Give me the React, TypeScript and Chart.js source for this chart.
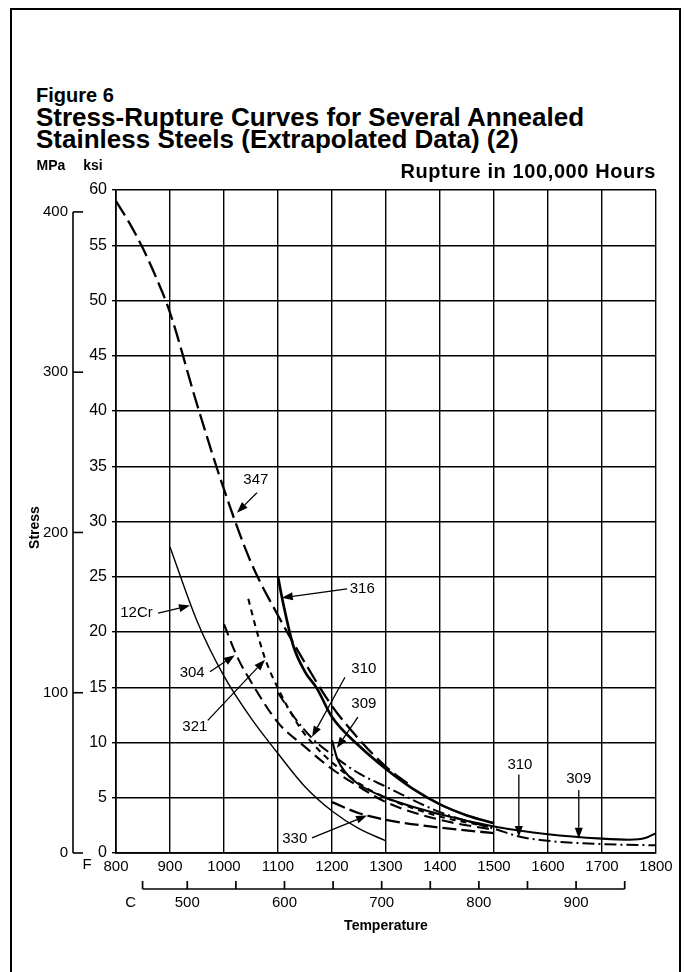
import React, { useEffect, useRef } from "react";
import { Chart, registerables } from "chart.js";

Chart.register(...registerables);

// ---------- data (temperature °F, stress ksi) ----------
const F_347 = [800, 825, 850, 875, 900, 950, 1000, 1050, 1100, 1150, 1200, 1250, 1300, 1340];
const KSI_347 = [59, 57.0, 54.7, 52.0, 48.9, 40.6, 32.9, 26.3, 21.5, 17.2, 13.3, 10.3, 7.8, 6.3];

const F_316 = [1100, 1110, 1128, 1150, 1172, 1200, 1250, 1300, 1350, 1400, 1450, 1500];
const KSI_316 = [25, 22.5, 18.8, 16.4, 14.9, 12.3, 9.7, 7.6, 5.8, 4.4, 3.4, 2.7];

const F_12CR = [900, 950, 1000, 1050, 1100, 1150, 1200, 1250, 1300];
const KSI_12CR = [27.7, 21.0, 16.0, 12.2, 9.0, 6.0, 3.8, 2.2, 1.1];

const F_304 = [1000, 1025, 1050, 1100, 1150, 1200, 1250, 1300, 1400, 1500];
const KSI_304 = [20.7, 17.7, 15.5, 11.8, 9.6, 7.6, 6.0, 4.6, 3.0, 2.1];

const F_321 = [1045, 1060, 1076, 1100, 1140, 1170, 1200, 1250, 1300, 1400, 1500];
const KSI_321 = [23.0, 20.2, 17.6, 14.9, 11.4, 9.6, 8.2, 6.3, 5.0, 3.3, 2.3];

const F_310 = [1100, 1130, 1163, 1200, 1250, 1300, 1400, 1500, 1550, 1600, 1700, 1800];
const KSI_310 = [14.5, 12.3, 10.4, 8.9, 7.2, 6.0, 3.7, 2.2, 1.45, 1.1, 0.8, 0.7];

const F_309 = [1200, 1210, 1225, 1250, 1300, 1400, 1500, 1600, 1700, 1750, 1780, 1800];
const KSI_309 = [10.2, 8.5, 7.3, 6.2, 5.0, 3.5, 2.4, 1.7, 1.3, 1.2, 1.35, 1.8];

const F_330 = [1200, 1250, 1300, 1400, 1500];
const KSI_330 = [4.6, 3.6, 3.0, 2.3, 1.8];

// axes
const F_MIN = 800;
const F_MAX = 1800;
const F_STEP = 100;
const KSI_MIN = 0;
const KSI_MAX = 60;
const KSI_STEP = 5;
const MPA_TICKS = [0, 100, 200, 300, 400];
const MPA_PER_KSI = 6.894757;
const C_TICKS = [500, 550, 600, 650, 700, 750, 800, 850, 900, 950];
const C_LABELS = [500, 600, 700, 800, 900];
const C_START = 454;

// curve labels: text position, arrow tail, arrow head (°F, ksi)
const LABELS = [
  { text: "347", tx: 1059, ty: 33.8, ax: 1061, ay: 32.6, hx: 1024, hy: 30.8 },
  { text: "316", tx: 1256, ty: 23.9, ax: 1228, ay: 23.9, hx: 1107, hy: 23.1 },
  { text: "12Cr", tx: 838, ty: 21.7, ax: 878, ay: 21.7, hx: 937, hy: 22.4 },
  { text: "304", tx: 941, ty: 16.3, ax: 974, ay: 16.4, hx: 1020, hy: 17.9 },
  { text: "321", tx: 946, ty: 11.4, ax: 970, ay: 12.0, hx: 1076, hy: 17.5 },
  { text: "310", tx: 1259, ty: 16.7, ax: 1224, ay: 15.9, hx: 1163, hy: 10.5 },
  { text: "309", tx: 1259, ty: 13.5, ax: 1248, ay: 12.3, hx: 1209, hy: 9.5 },
  { text: "330", tx: 1131, ty: 1.3, ax: 1163, ay: 1.36, hx: 1265, hy: 3.4 },
  { text: "310", tx: 1548, ty: 8.0, ax: 1546, ay: 7.1, hx: 1546, hy: 1.45 },
  { text: "309", tx: 1657, ty: 6.7, ax: 1657, ay: 5.7, hx: 1657, hy: 1.3 },
];

const FONT = "'Liberation Sans', Arial, Helvetica, sans-serif";

function pts(xs: number[], ys: number[]) {
  return xs.map((x, i) => ({ x, y: ys[i] }));
}

function ds(label: string, xs: number[], ys: number[], width: number, dash: number[]) {
  return {
    label,
    data: pts(xs, ys),
    borderColor: "#000",
    backgroundColor: "#000",
    borderWidth: width,
    borderDash: dash,
    pointRadius: 0,
    cubicInterpolationMode: "monotone" as const,
    fill: false,
  };
}

const overlay = {
  id: "overlay",
  afterDraw(chart: any) {
    const { ctx, chartArea, scales } = chart;
    const x = scales.x;
    const y = scales.y;
    ctx.save();
    ctx.fillStyle = "#000";
    ctx.strokeStyle = "#000";
    ctx.lineCap = "butt";

    // MPa axis
    const axX = chartArea.left - 43;
    const yTop = y.getPixelForValue(MPA_TICKS[MPA_TICKS.length - 1] / MPA_PER_KSI);
    const yBot = y.getPixelForValue(0);
    ctx.lineWidth = 1.6;
    ctx.beginPath();
    ctx.moveTo(axX, yTop);
    ctx.lineTo(axX, yBot);
    ctx.stroke();
    ctx.font = `15px ${FONT}`;
    ctx.textAlign = "right";
    ctx.textBaseline = "middle";
    MPA_TICKS.forEach((m) => {
      const py = y.getPixelForValue(m / MPA_PER_KSI);
      ctx.beginPath();
      ctx.moveTo(axX, py);
      ctx.lineTo(axX + 10, py);
      ctx.stroke();
      ctx.fillText(String(m), axX - 5, py);
    });

    // unit labels
    ctx.font = `bold 14px ${FONT}`;
    ctx.textAlign = "center";
    ctx.fillText("MPa", chartArea.left - 65, chartArea.top - 24);
    ctx.fillText("ksi", chartArea.left - 23, chartArea.top - 24);

    // Rupture header
    ctx.font = `bold 20px ${FONT}`;
    ctx.textAlign = "right";
    try {
      (ctx as any).letterSpacing = "0.6px";
    } catch (e) {}
    ctx.fillText("Rupture in 100,000 Hours", chartArea.right, chartArea.top - 18);
    try {
      (ctx as any).letterSpacing = "0px";
    } catch (e) {}

    // F label
    ctx.font = `15px ${FONT}`;
    ctx.textAlign = "center";
    ctx.fillText("F", chartArea.left - 29, chartArea.bottom + 12);

    // Celsius axis
    const yC = chartArea.bottom + 36;
    const toF = (c: number) => c * 1.8 + 32;
    const cx0 = x.getPixelForValue(toF(C_START));
    const cx1 = x.getPixelForValue(toF(C_TICKS[C_TICKS.length - 1]));
    ctx.lineWidth = 1.7;
    ctx.beginPath();
    ctx.moveTo(cx0, yC);
    ctx.lineTo(cx1, yC);
    ctx.stroke();
    [C_START, ...C_TICKS].forEach((c) => {
      const px = x.getPixelForValue(toF(c));
      ctx.beginPath();
      ctx.moveTo(px, yC);
      ctx.lineTo(px, yC - 8);
      ctx.stroke();
    });
    C_LABELS.forEach((c) => {
      ctx.fillText(String(c), x.getPixelForValue(toF(c)), yC + 14);
    });
    ctx.fillText("C", cx0 - 12, yC + 14);

    // Temperature title
    ctx.font = `bold 14px ${FONT}`;
    ctx.fillText("Temperature", (chartArea.left + chartArea.right) / 2, chartArea.bottom + 73);

    // Stress title
    ctx.save();
    ctx.translate(chartArea.left - 81, (chartArea.top + chartArea.bottom) / 2 + 6);
    ctx.rotate(-Math.PI / 2);
    ctx.fillText("Stress", 0, 0);
    ctx.restore();

    // curve labels with arrows
    ctx.font = `15px ${FONT}`;
    ctx.lineWidth = 1.3;
    LABELS.forEach((l) => {
      const tx = x.getPixelForValue(l.tx);
      const ty = y.getPixelForValue(l.ty);
      ctx.fillText(l.text, tx, ty);
      const ax = x.getPixelForValue(l.ax);
      const ay = y.getPixelForValue(l.ay);
      const hx = x.getPixelForValue(l.hx);
      const hy = y.getPixelForValue(l.hy);
      const ang = Math.atan2(hy - ay, hx - ax);
      const len = 11;
      const wid = 4;
      const bx = hx - len * Math.cos(ang);
      const by = hy - len * Math.sin(ang);
      ctx.beginPath();
      ctx.moveTo(ax, ay);
      ctx.lineTo(bx, by);
      ctx.stroke();
      ctx.beginPath();
      ctx.moveTo(hx, hy);
      ctx.lineTo(bx + wid * Math.sin(ang), by - wid * Math.cos(ang));
      ctx.lineTo(bx - wid * Math.sin(ang), by + wid * Math.cos(ang));
      ctx.closePath();
      ctx.fill();
    });
    ctx.restore();
  },
};

export default function App() {
  const ref = useRef<HTMLCanvasElement | null>(null);

  useEffect(() => {
    if (!ref.current) return;
    const chart = new Chart(ref.current, {
      type: "line",
      data: {
        datasets: [
          ds("347", F_347, KSI_347, 2.3, [17, 6]),
          ds("316", F_316, KSI_316, 2.7, []),
          ds("12Cr", F_12CR, KSI_12CR, 1.4, []),
          ds("304", F_304, KSI_304, 2.1, [12, 6]),
          ds("321", F_321, KSI_321, 2.1, [6, 5]),
          ds("310", F_310, KSI_310, 2.0, [12, 4, 2, 4]),
          ds("309", F_309, KSI_309, 2.1, []),
          ds("330", F_330, KSI_330, 2.3, [14, 5]),
        ],
      },
      options: {
        animation: false,
        responsive: false,
        maintainAspectRatio: false,
        devicePixelRatio: 1,
        layout: { padding: { left: 0, top: 190, right: 29, bottom: 0 } },
        plugins: { legend: { display: false }, tooltip: { enabled: false } },
        events: [],
        scales: {
          x: {
            type: "linear",
            min: F_MIN,
            max: F_MAX,
            afterFit: (s: any) => {
              s.height = 119;
            },
            ticks: {
              stepSize: F_STEP,
              autoSkip: false,
              maxRotation: 0,
              color: "#000",
              padding: 5,
              font: { family: FONT, size: 15 },
              callback: (v: any) => String(v),
            },
            grid: { color: "#000", lineWidth: 1.4, drawTicks: false },
            border: { color: "#000", width: 1.7 },
          },
          y: {
            type: "linear",
            min: KSI_MIN,
            max: KSI_MAX,
            afterFit: (s: any) => {
              s.width = 116;
            },
            ticks: {
              stepSize: KSI_STEP,
              autoSkip: false,
              color: "#000",
              padding: 5,
              font: { family: FONT, size: 16 },
            },
            grid: { color: "#000", lineWidth: 1.4, tickLength: 4 },
            border: { color: "#000", width: 1.7 },
          },
        },
      },
      plugins: [overlay],
    } as any);
    return () => chart.destroy();
  }, []);

  return (
    <div style={{ position: "absolute", left: 0, top: 0, width: 685, height: 972, background: "#fff", overflow: "hidden" }}>
      <div
        style={{
          position: "absolute",
          left: 10,
          top: 8,
          width: 671,
          height: 970,
          border: "2.5px solid #000",
          borderBottom: "none",
          boxSizing: "border-box",
        }}
      />
      <div style={{ position: "absolute", left: 36, top: 84, fontFamily: FONT, fontWeight: "bold", color: "#000" }}>
        <div style={{ fontSize: 20, lineHeight: "22px" }}>Figure 6</div>
        <div style={{ fontSize: 26, lineHeight: "22px" }}>Stress-Rupture Curves for Several Annealed</div>
        <div style={{ fontSize: 26, lineHeight: "22px" }}>Stainless Steels (Extrapolated Data) (2)</div>
      </div>
      <canvas ref={ref} width={685} height={972} style={{ position: "absolute", left: 0, top: 0, width: 685, height: 972 }} />
    </div>
  );
}
